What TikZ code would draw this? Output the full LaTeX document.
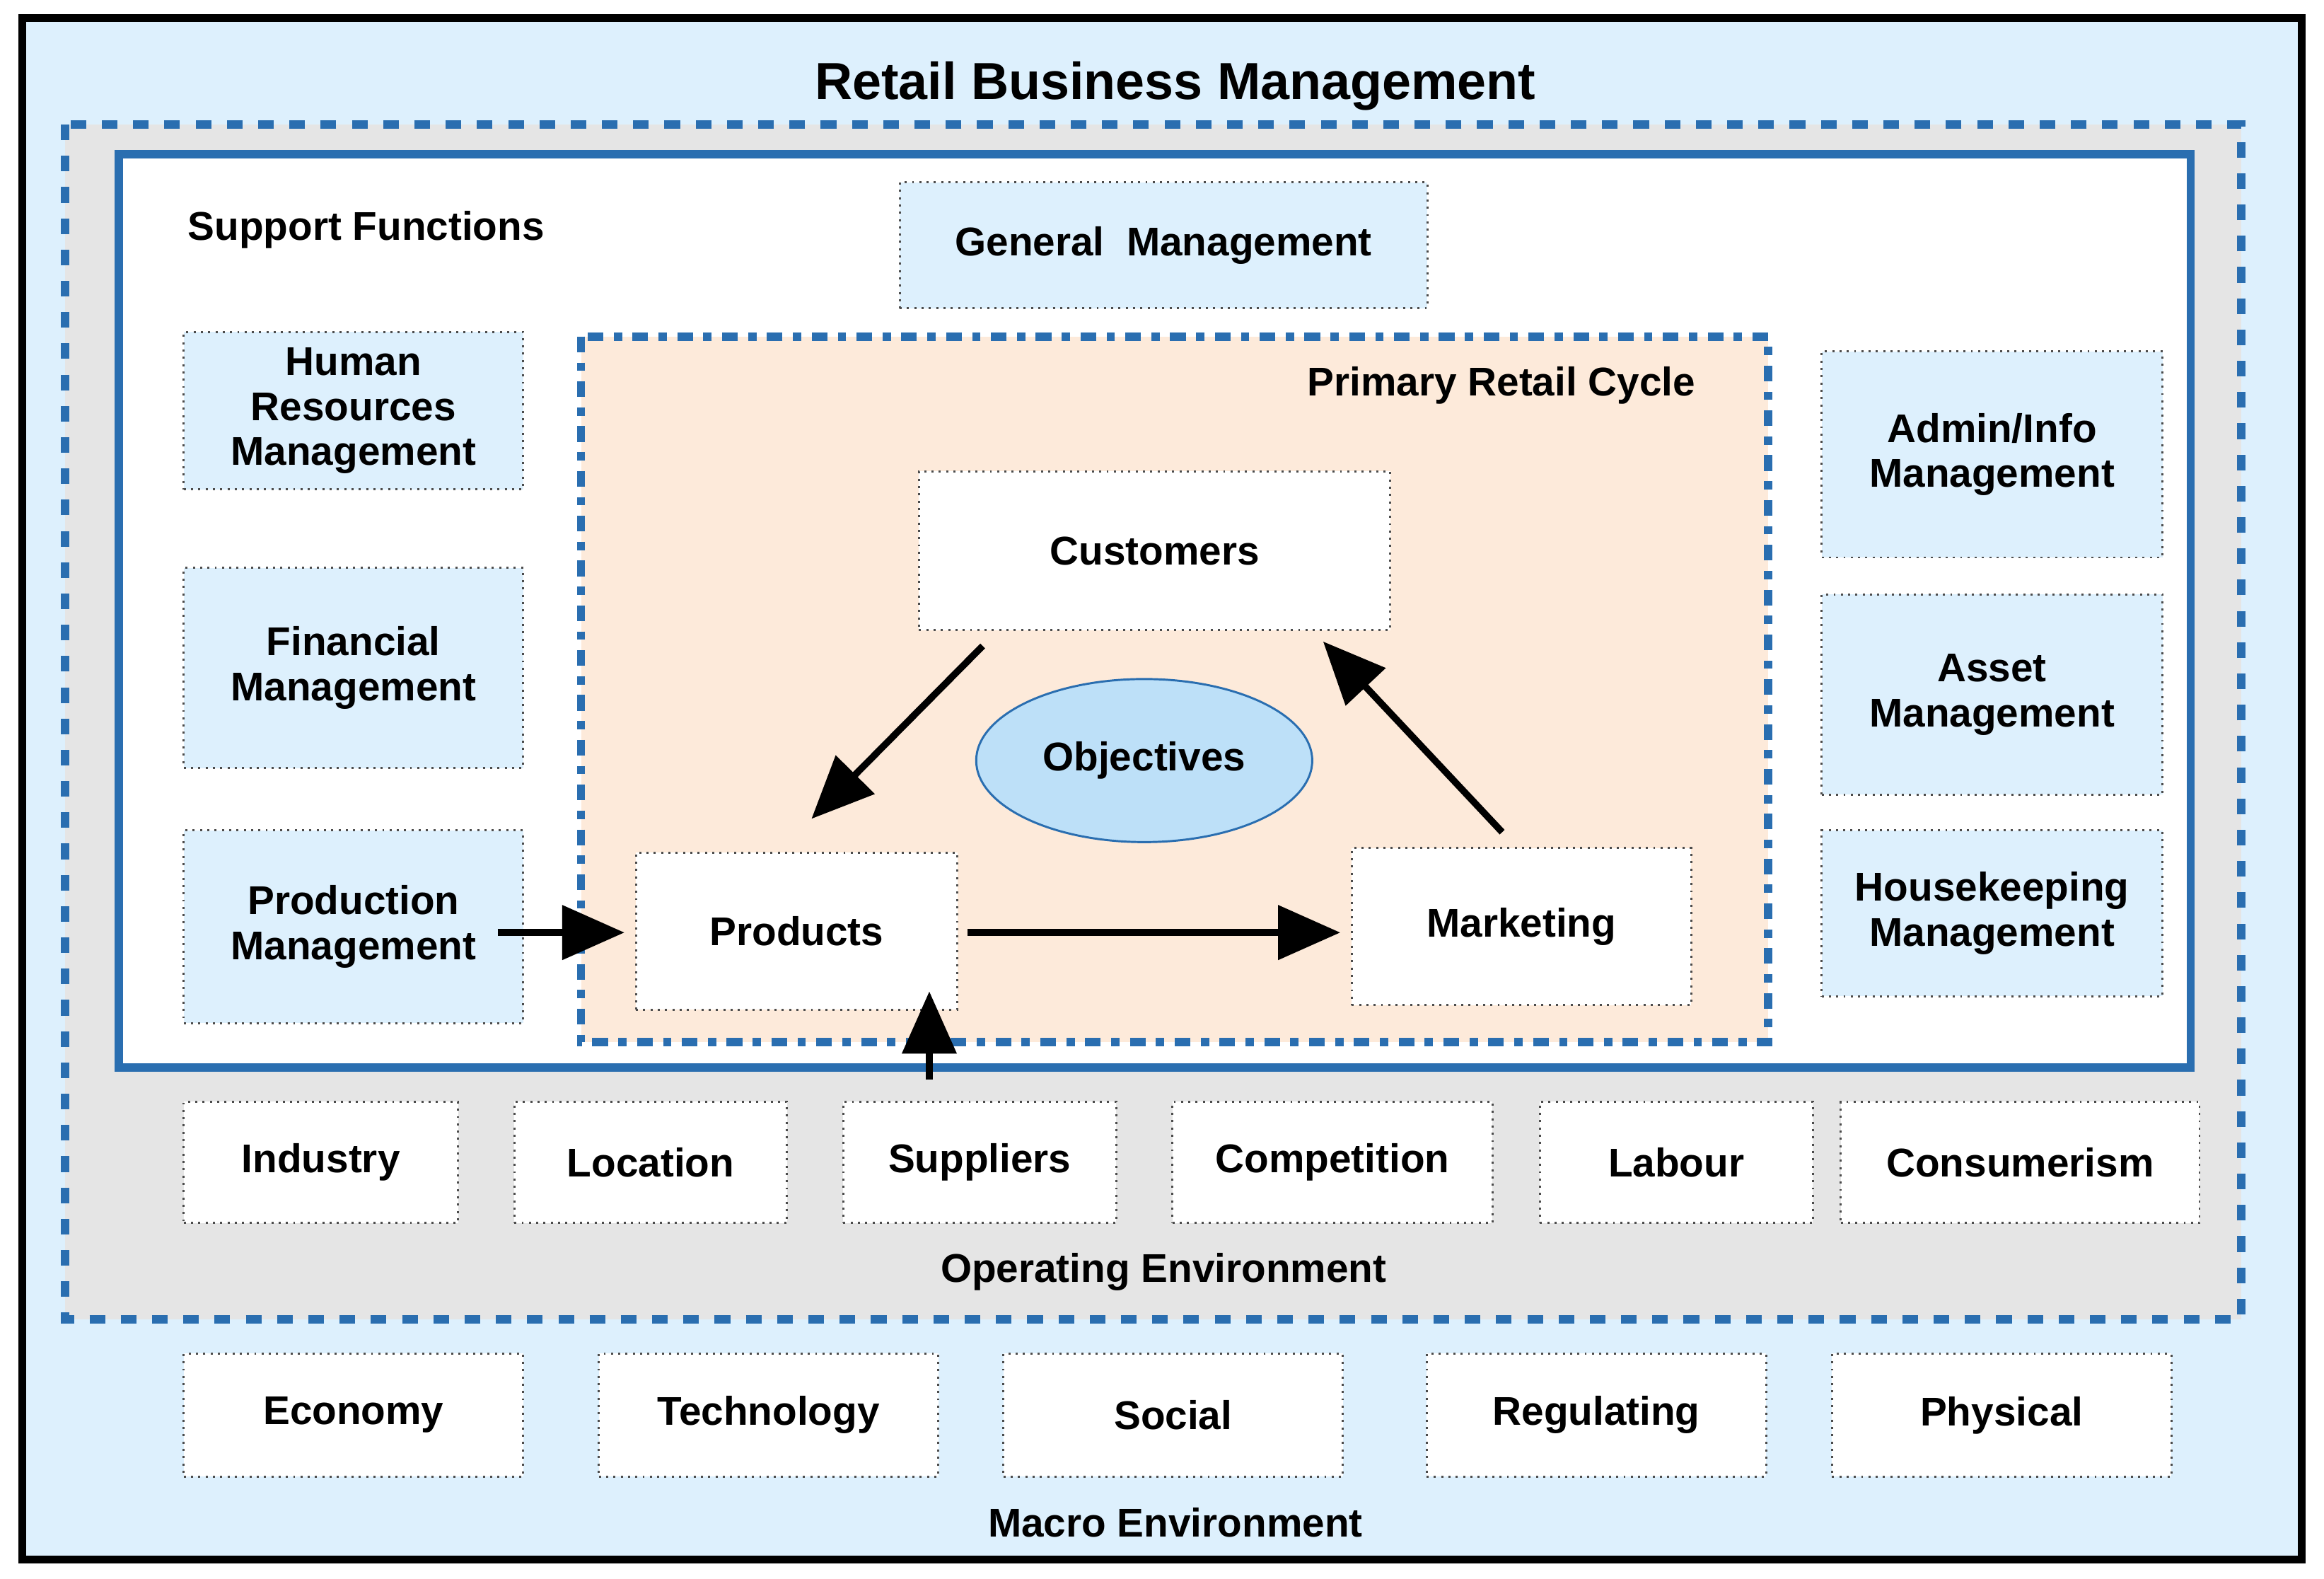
\documentclass[tikz,border=0pt]{standalone}
\usepackage{fontspec}
\setmainfont{Liberation Sans}
\usetikzlibrary{arrows.meta,shapes.geometric}
\definecolor{skyfill}{HTML}{DDF0FD}
\definecolor{opgray}{HTML}{E5E5E5}
\definecolor{peach}{HTML}{FDEADA}
\definecolor{lineblue}{HTML}{2A6EB0}
\definecolor{objfill}{HTML}{BDE0F8}
\tikzset{
  lbl/.style={font=\fontsize{7.7}{8.6}\selectfont\bfseries, align=center},
  sbox/.style={lbl, draw=black!70, densely dotted, fill=skyfill, inner sep=1pt},
  wbox/.style={sbox, fill=white},
  flow/.style={line width=1.3pt, -{Triangle[length=0.42cm,width=0.36cm]}}
}
\begin{document}
\begin{tikzpicture}
\useasboundingbox (0,0) rectangle (15.68,-10.65);
% frames
\draw[line width=1.5pt, fill=skyfill] (0.15,-0.12) rectangle (15.53,-10.52);
\node[lbl, font=\fontsize{10}{12}\selectfont\bfseries] (title) at (7.93,-0.58) {Retail Business Management};
\draw[lineblue, line width=1.6pt, dashed, fill=opgray] (0.44,-0.84) rectangle (15.12,-8.90);
\draw[lineblue, line width=1.6pt, fill=white] (0.80,-1.04) rectangle (14.78,-7.20);
\node[lbl] (supf) at (2.47,-1.55) {Support Functions};
\draw[lineblue, line width=1.6pt, dash dot, fill=peach] (3.92,-2.27) rectangle (11.93,-7.03);
\node[lbl] (prc) at (10.13,-2.60) {Primary Retail Cycle};
% support functions
\node[sbox, minimum width=3.56cm, minimum height=0.85cm] (gen) at (7.85,-1.655) {General\ \ Management};
\node[sbox, minimum width=2.29cm, minimum height=1.06cm] (hr) at (2.385,-2.77) {Human\\Resources\\Management};
\node[sbox, minimum width=2.29cm, minimum height=1.35cm] (fin) at (2.385,-4.505) {Financial\\Management};
\node[sbox, minimum width=2.29cm, minimum height=1.30cm] (prodm) at (2.385,-6.25) {Production\\Management};
\node[sbox, minimum width=2.30cm, minimum height=1.39cm] (adm) at (13.44,-3.065) {Admin/Info\\Management};
\node[sbox, minimum width=2.30cm, minimum height=1.35cm] (ast) at (13.44,-4.685) {Asset\\Management};
\node[sbox, minimum width=2.30cm, minimum height=1.12cm] (hk) at (13.44,-6.16) {Housekeeping\\Management};
% retail cycle
\node[wbox, minimum width=3.18cm, minimum height=1.07cm] (cust) at (7.79,-3.715) {Customers};
\node[wbox, minimum width=2.17cm, minimum height=1.06cm] (prod) at (5.375,-6.28) {Products};
\node[wbox, minimum width=2.29cm, minimum height=1.06cm] (mark) at (10.265,-6.25) {Marketing};
\node[lbl, ellipse, draw=lineblue, fill=objfill, minimum width=1.9cm, minimum height=1.1cm] (obj) at (7.72,-5.13) {Objectives};
% operating environment
\node[wbox, minimum width=1.85cm, minimum height=0.82cm] (ind) at (2.165,-7.84) {Industry};
\node[wbox, minimum width=1.84cm, minimum height=0.82cm] (loc) at (4.39,-7.84) {Location};
\node[wbox, minimum width=1.84cm, minimum height=0.82cm] (supp) at (6.61,-7.84) {Suppliers};
\node[wbox, minimum width=2.16cm, minimum height=0.82cm] (comp) at (8.99,-7.84) {Competition};
\node[wbox, minimum width=1.84cm, minimum height=0.82cm] (lab) at (11.31,-7.84) {Labour};
\node[wbox, minimum width=2.42cm, minimum height=0.82cm] (cons) at (13.63,-7.84) {Consumerism};
\node[lbl] (openv) at (7.85,-8.58) {Operating Environment};
% macro environment
\node[wbox, minimum width=2.29cm, minimum height=0.83cm] (eco) at (2.385,-9.545) {Economy};
\node[wbox, minimum width=2.29cm, minimum height=0.83cm] (tech) at (5.185,-9.545) {Technology};
\node[wbox, minimum width=2.29cm, minimum height=0.83cm] (soc) at (7.915,-9.545) {Social};
\node[wbox, minimum width=2.29cm, minimum height=0.83cm] (reg) at (10.77,-9.545) {Regulating};
\node[wbox, minimum width=2.29cm, minimum height=0.83cm] (phy) at (13.505,-9.545) {Physical};
\node[lbl] (macenv) at (7.93,-10.27) {Macro Environment};
% arrows
\draw[flow] ([xshift=-1.16cm,yshift=-0.1cm]cust.south) -- ([xshift=0.1cm,yshift=0.22cm]prod.north);
\draw[flow] ([xshift=-0.13cm,yshift=0.1cm]mark.north) -- ([xshift=-0.46cm,yshift=-0.07cm]cust.south east);
\draw[flow] ([xshift=0.06cm,yshift=-0.01cm]prod.east) -- ([xshift=-0.07cm,yshift=-0.01cm]prod.east -| mark.west);
\draw[flow] ([xshift=-0.18cm,yshift=-0.04cm]prodm.east) -- ([xshift=-0.07cm,yshift=-0.04cm]prodm.east -| prod.west);
\draw[flow] ([xshift=-0.34cm,yshift=0.14cm]supp.north) -- ([xshift=-0.34cm,yshift=0.13cm]supp.north |- prod.south);
\end{tikzpicture}
\end{document}
